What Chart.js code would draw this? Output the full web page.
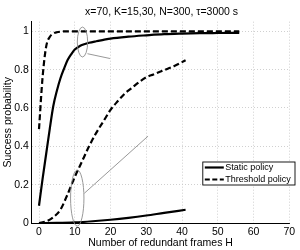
<!DOCTYPE html>
<html>
<head>
<meta charset="utf-8">
<script src="https://cdn.jsdelivr.net/npm/chart.js@4/dist/chart.umd.min.js"></script>
<style>
  html, body { margin: 0; padding: 0; background: #fff; }
</style>
</head>
<body>
<canvas id="successChart" width="300" height="250"></canvas>
<script>
const chartTitle = 'x=70, K=15,30, N=300, τ=3000 s';
const xLabel = 'Number of redundant frames H';
const yLabel = 'Success probability';
const seriesNames = ['Static policy', 'Threshold policy'];
const xTicks = [0, 10, 20, 30, 40, 50, 60, 70];
const yTicks = [0, 0.2, 0.4, 0.6, 0.8, 1];

// K = 15
const hStatic15 = [0, 1, 2, 3, 4, 5, 6, 7, 8, 9, 10, 11, 12, 14, 16, 18, 20, 25, 30, 35, 40, 45, 50, 56];
const pStatic15 = [0.09, 0.23, 0.36, 0.49, 0.61, 0.69, 0.755, 0.805, 0.85, 0.88, 0.905, 0.918, 0.928, 0.94, 0.948, 0.955, 0.962, 0.972, 0.979, 0.985, 0.988, 0.99, 0.991, 0.992];
const hThresh15 = [0, 1, 2, 3, 4, 5, 6, 8, 10, 15, 20, 30, 40, 50, 56];
const pThresh15 = [0.49, 0.76, 0.92, 0.97, 0.988, 0.995, 0.998, 1, 1, 1, 1, 1, 1, 1, 1];

// K = 30
const hStatic30 = [0, 5, 10, 15, 20, 25, 30, 35, 41];
const pStatic30 = [0, 0.0005, 0.003, 0.009, 0.017, 0.027, 0.039, 0.053, 0.069];
const hThresh30 = [0, 2, 4, 6, 8, 10, 12, 14, 16, 18, 20, 22, 24, 26, 28, 30, 32, 34, 36, 38, 41];
const pThresh30 = [0, 0.008, 0.03, 0.07, 0.15, 0.24, 0.32, 0.4, 0.47, 0.53, 0.59, 0.635, 0.675, 0.705, 0.735, 0.76, 0.775, 0.79, 0.805, 0.82, 0.849];

// callouts (data coordinates)
const ellipses = [
  { x: 12.16, y: 0.944, rx: 1.45, ry: 0.078 },
  { x: 10.7, y: 0.13, rx: 1.87, ry: 0.146 }
];
const pointers = [
  { x1: 13.55, y1: 0.883, x2: 19.85, y2: 0.858 },
  { x1: 12.67, y1: 0.155, x2: 30.5, y2: 0.453 }
];

const fontFamily = '"Liberation Sans", Arial, Helvetica, sans-serif';
const dashed = [6, 3];

function toPoints(xs, ys) {
  return xs.map((x, i) => ({ x: x, y: ys[i] }));
}

function lineSet(label, xs, ys, dash) {
  return {
    label: label,
    data: toPoints(xs, ys),
    borderColor: '#000',
    borderWidth: 2.2,
    borderDash: dash,
    pointRadius: 0,
    fill: false,
    cubicInterpolationMode: 'monotone'
  };
}

const decorPlugin = {
  id: 'decor',
  afterDatasetsDraw(chart) {
    const ctx = chart.ctx;
    const xs = chart.scales.x, ys = chart.scales.y;
    ctx.save();
    ctx.strokeStyle = '#8c8c8c';
    ctx.lineWidth = 0.9;
    ellipses.forEach(e => {
      const cx = xs.getPixelForValue(e.x), cy = ys.getPixelForValue(e.y);
      const rx = xs.getPixelForValue(e.x + e.rx) - cx;
      const ry = cy - ys.getPixelForValue(e.y + e.ry);
      ctx.beginPath();
      ctx.ellipse(cx, cy, rx, ry, 0, 0, Math.PI * 2);
      ctx.stroke();
    });
    pointers.forEach(p => {
      ctx.beginPath();
      ctx.moveTo(xs.getPixelForValue(p.x1), ys.getPixelForValue(p.y1));
      ctx.lineTo(xs.getPixelForValue(p.x2), ys.getPixelForValue(p.y2));
      ctx.stroke();
    });
    ctx.restore();
  },
  afterDraw(chart) {
    const ctx = chart.ctx;
    const area = chart.chartArea;
    ctx.save();
    // title
    ctx.fillStyle = '#000';
    ctx.font = '10.5px ' + fontFamily;
    ctx.textAlign = 'center';
    ctx.textBaseline = 'middle';
    ctx.fillText(chartTitle, (area.left + area.right) / 2 + 1, 11.7);

    // legend box
    const left = area.right - 86.5, right = area.right + 5.7;
    const top = area.bottom - 61, bottom = area.bottom - 38;
    ctx.fillStyle = '#fff';
    ctx.fillRect(left, top, right - left, bottom - top);
    ctx.strokeStyle = '#000';
    ctx.lineWidth = 0.9;
    ctx.strokeRect(left, top, right - left, bottom - top);
    ctx.font = '9px ' + fontFamily;
    ctx.textAlign = 'left';
    seriesNames.forEach((name, i) => {
      const y = top + 5.5 + i * 12;
      ctx.beginPath();
      ctx.setLineDash(i === 0 ? [] : [5, 2.5]);
      ctx.lineWidth = 2.2;
      ctx.moveTo(left + 2, y);
      ctx.lineTo(left + 21, y);
      ctx.stroke();
      ctx.setLineDash([]);
      ctx.fillStyle = '#000';
      ctx.fillText(name, left + 22.5, y);
    });
    ctx.restore();
  }
};

const ctx = document.getElementById('successChart').getContext('2d');
new Chart(ctx, {
  type: 'line',
  data: {
    datasets: [
      lineSet(seriesNames[0], hStatic15, pStatic15, []),
      lineSet(seriesNames[1], hThresh15, pThresh15, dashed),
      lineSet(seriesNames[0], hStatic30, pStatic30, []),
      lineSet(seriesNames[1], hThresh30, pThresh30, dashed)
    ]
  },
  options: {
    responsive: false,
    animation: false,
    devicePixelRatio: 1,
    layout: { padding: { top: 21.7, right: 10.7, left: 0, bottom: 0 } },
    plugins: {
      legend: { display: false },
      tooltip: { enabled: false },
      title: { display: false }
    },
    scales: {
      x: {
        type: 'linear',
        min: -2,
        max: 70,
        afterBuildTicks: s => { s.ticks = xTicks.map(v => ({ value: v })); },
        afterFit: s => { s.height = 27; },
        grid: { color: '#c4c4c4', lineWidth: 0.8, drawTicks: false },
        border: { display: true, color: '#000', width: 1, dash: [1, 2] },
        ticks: {
          color: '#000',
          padding: 2.4,
          maxRotation: 0,
          font: { family: fontFamily, size: 10.5, lineHeight: 1.2 },
          callback: v => String(v)
        },
        title: {
          display: true,
          text: xLabel,
          color: '#000',
          padding: { top: 0, bottom: 1.5 },
          font: { family: fontFamily, size: 10.5, lineHeight: 1 }
        }
      },
      y: {
        min: 0,
        max: 1.05,
        afterBuildTicks: s => { s.ticks = yTicks.map(v => ({ value: v })); },
        afterFit: s => { s.width = 31.85; },
        grid: { color: '#c4c4c4', lineWidth: 0.8, drawTicks: false },
        border: { display: true, color: '#000', width: 1, dash: [1, 2] },
        ticks: {
          color: '#000',
          padding: 3,
          font: { family: fontFamily, size: 10.5, lineHeight: 1.2 },
          callback: v => String(Math.round(v * 10) / 10)
        },
        title: {
          display: true,
          text: yLabel,
          color: '#000',
          padding: { top: 2, bottom: 0 },
          font: { family: fontFamily, size: 10.5, lineHeight: 1.2 }
        }
      }
    }
  },
  plugins: [decorPlugin]
});
</script>
</body>
</html>
